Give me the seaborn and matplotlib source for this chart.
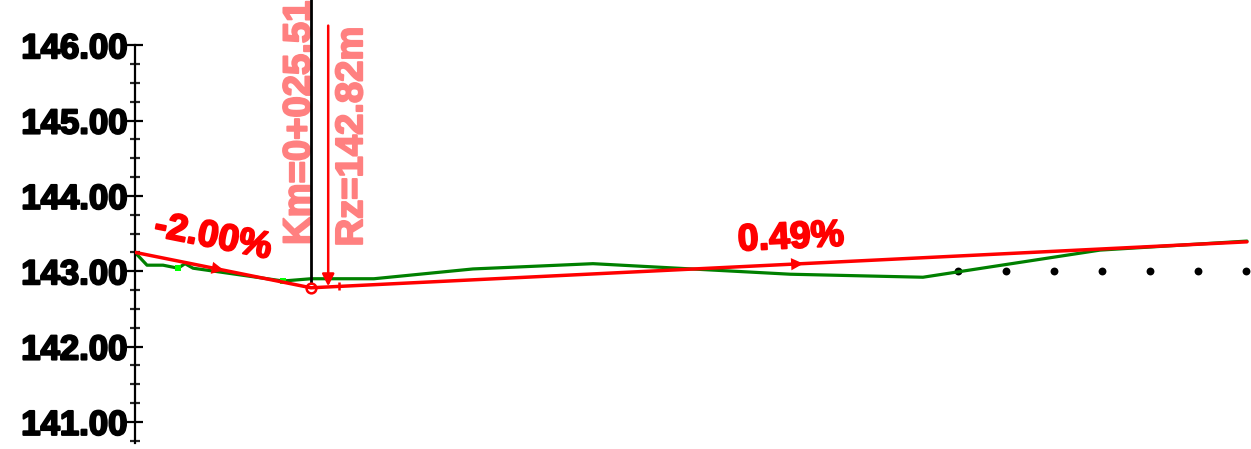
import numpy as np
import pandas as pnd
import seaborn as sns
import matplotlib.pyplot as plt
import matplotlib.ticker as ticker
import matplotlib.patheffects as pe

sns.set_style("white")
plt.rcParams['font.family'] = ['Liberation Sans', 'DejaVu Sans']
plt.rcParams['font.weight'] = 'bold'

# terrain profile (chainage m, elevation m)
ground_km = [2.04, 3.64, 5.78, 7.78, 8.71, 9.78, 21.78, 25.51, 33.9, 47.1,
             63.1, 89.4, 107.1, 130.7, 150.3]
ground_z = [143.25, 143.08, 143.08, 143.04, 143.10, 143.04, 142.87, 142.90,
            142.90, 143.03, 143.10, 142.96, 142.92, 143.28, 143.40]
ground_pts = [3, 6]  # indices of highlighted survey points

# grade line (start, PVI, end)
grade_km = [2.04, 25.51, 150.3]
grade_z = [143.25, 142.78, 143.39]
grade_labels = ["-2.00%", "0.49%"]

# reference level dots
dots_km = [111.8, 118.2, 124.6, 131.0, 137.4, 143.8, 150.2]
dots_z = [143.0] * 7

pvi_label = "Km=0+025.51"
rz_label = "Rz=142.82m"
rz_km = 27.8
rz_z = 142.80

y_major = [141, 142, 143, 144, 145, 146]
y_minor = list(np.arange(140.75, 146.01, 0.25))


def heavy(color, w=1.4):
    return [pe.withStroke(linewidth=w, foreground=color)]


fig = plt.figure(figsize=(12.51, 4.49), dpi=100)
ax = fig.add_axes([135 / 1251, 0, 1 - 135 / 1251, 1])

ground = pnd.DataFrame({"km": ground_km, "z": ground_z})
grade = pnd.DataFrame({"km": grade_km, "z": grade_z})
dots = pnd.DataFrame({"km": dots_km, "z": dots_z})

sns.lineplot(data=ground, x="km", y="z", color="#008000", lw=2.3, ax=ax,
             sort=False, estimator=None)
sns.scatterplot(data=ground.iloc[ground_pts], x="km", y="z", marker="s",
                color="#00ff00", s=25, linewidth=0, ax=ax, zorder=3)
sns.lineplot(data=grade, x="km", y="z", color="red", lw=2.5, ax=ax,
             sort=False, estimator=None, zorder=4)
sns.scatterplot(data=dots, x="km", y="z", color="black", s=32, linewidth=0,
                ax=ax)

# direction arrows on grade segments
for i, frac in enumerate([0.42, 0.51]):
    x0, x1 = grade_km[i], grade_km[i + 1]
    z0, z1 = grade_z[i], grade_z[i + 1]
    k = (z1 - z0) / (x1 - x0)
    xa = x0 + frac * (x1 - x0)
    xb = xa + 2.0
    ax.annotate("", xy=(xb, z0 + (xb - x0) * k),
                xytext=(xa, z0 + (xa - x0) * k),
                arrowprops=dict(arrowstyle="-|>", color="red", lw=0,
                                mutation_scale=22, shrinkA=0, shrinkB=0),
                zorder=5)

# PVI marker and station line
ax.plot([grade_km[1], grade_km[1]], [grade_z[1] + 0.06, 146.7], color="black",
        lw=2, zorder=3)
ax.plot(grade_km[1], grade_z[1], "o", mfc="none", mec="red", mew=1.8, ms=7,
        zorder=6)
ax.plot(29.2, grade_z[1] + 0.02, marker="|", color="red", ms=6, mew=1.8,
        zorder=6)
ax.annotate("", xy=(rz_km, rz_z), xytext=(rz_km, 146.26),
            arrowprops=dict(arrowstyle="-|>", color="red", lw=1.8,
                            mutation_scale=18, shrinkA=0, shrinkB=0), zorder=6)

ax.text(24.0, 144.97, pvi_label, rotation=90, color="#ff8080", fontsize=27.5,
        fontweight="bold", ha="center", va="center", zorder=2,
        path_effects=heavy("#ff8080"))
ax.text(31.0, 144.79, rz_label, rotation=90, color="#ff8080", fontsize=27.5,
        fontweight="bold", ha="center", va="center", zorder=2,
        path_effects=heavy("#ff8080"))

ax.text(12.44, 143.45, grade_labels[0], rotation=-11.2, color="red",
        fontsize=27, fontweight="bold", ha="center", va="center",
        rotation_mode="anchor", path_effects=heavy("red"))
ax.text(89.5, 143.44, grade_labels[1], rotation=2.8, color="red",
        fontsize=27, fontweight="bold", ha="center", va="center",
        rotation_mode="anchor", path_effects=heavy("red"))

ax.set_xlim(2.04, 150.84)
ax.set_ylim(140.64, 146.60)
ax.set_xlabel("")
ax.set_ylabel("")
ax.set_xticks([])
ax.yaxis.set_major_locator(ticker.FixedLocator(y_major))
ax.yaxis.set_minor_locator(ticker.FixedLocator(y_minor))
ax.yaxis.set_major_formatter(ticker.FormatStrFormatter("%.2f"))
ax.tick_params(axis="y", which="major", direction="inout", length=11,
               width=1.6, labelsize=25, pad=0, colors="black", left=True)
ax.tick_params(axis="y", which="minor", direction="inout", length=7,
               width=1.6, left=True)
for lab in ax.get_yticklabels():
    lab.set_fontweight("bold")
    lab.set_path_effects(heavy("black", 1.5))
for s in ["top", "right", "bottom"]:
    ax.spines[s].set_visible(False)
ax.spines["left"].set_linewidth(1.6)
ax.spines["left"].set_color("black")
ax.spines["left"].set_bounds(140.72, 146.0)
ax.patch.set_alpha(0)

fig.savefig("out.png", dpi=100)
